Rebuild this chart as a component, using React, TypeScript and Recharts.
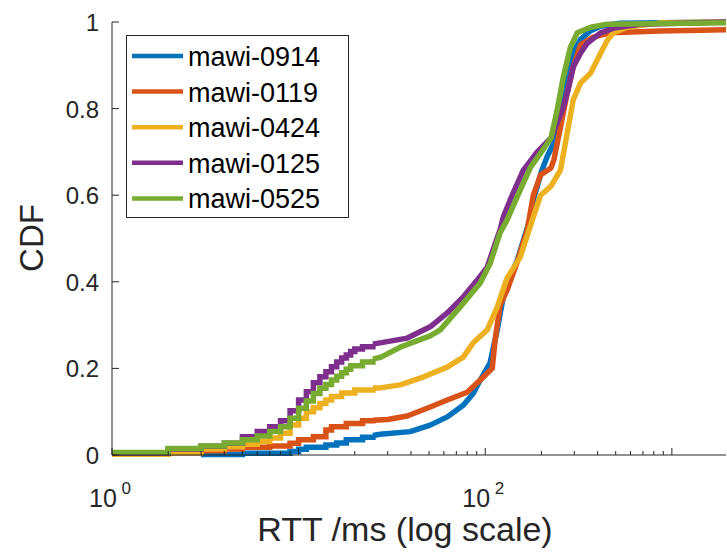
import { Line, LineChart, XAxis, YAxis } from "recharts";

type Pt = [number, number];

const AXIS = "#262626";
const FONT = "'Liberation Sans', Arial, Helvetica, sans-serif";

const SERIES_NAMES = ["mawi-0914", "mawi-0119", "mawi-0424", "mawi-0125", "mawi-0525"];
const SERIES_COLORS = ["#0072BD", "#D95319", "#EDB120", "#7E2F8E", "#77AC30"];

// RTTs are whole milliseconds at the low end, so the CDF is a staircase there.
// [rtt ms, cdf] at each jump, up to 25 ms
const steps0914: Pt[] = [[3, 0.001], [5, 0.004], [9, 0.008], [10, 0.013], [11, 0.018], [14, 0.023], [16, 0.028], [18, 0.035], [22, 0.041], [25, 0.045]];
const steps0119: Pt[] = [[2, 0.005], [3, 0.01], [4, 0.014], [5, 0.018], [7, 0.021], [9, 0.027], [10, 0.035], [12, 0.042], [14, 0.058], [15, 0.065], [18, 0.073], [22, 0.079], [25, 0.08]];
const steps0424: Pt[] = [[1, 0.002], [2, 0.006], [3, 0.014], [4, 0.019], [5, 0.025], [6, 0.031], [7, 0.039], [8, 0.05], [9, 0.069], [10, 0.085], [11, 0.1], [12, 0.109], [13, 0.119], [14, 0.127], [15, 0.135], [17, 0.143], [20, 0.15], [25, 0.155]];
const steps0125: Pt[] = [[1, 0.004], [2, 0.014], [3, 0.02], [4, 0.027], [5, 0.042], [6, 0.054], [7, 0.065], [8, 0.079], [9, 0.102], [10, 0.127], [11, 0.146], [12, 0.167], [13, 0.181], [14, 0.192], [15, 0.204], [16, 0.215], [17, 0.224], [18, 0.231], [19, 0.239], [20, 0.245], [22, 0.25], [25, 0.256]];
const steps0525: Pt[] = [[1, 0.006], [2, 0.015], [3, 0.021], [4, 0.028], [5, 0.035], [6, 0.044], [7, 0.054], [8, 0.065], [9, 0.085], [10, 0.108], [11, 0.125], [12, 0.142], [13, 0.154], [14, 0.163], [15, 0.173], [16, 0.182], [17, 0.19], [18, 0.198], [19, 0.206], [22, 0.215], [25, 0.222]];

// above 25 ms the steps are dense enough to read as a curve
const curve0914: Pt[] = [[25, 0.045], [27.3, 0.048], [39.6, 0.054], [50.7, 0.069], [62.6, 0.088], [76.2, 0.115], [86.2, 0.142], [94, 0.173], [106, 0.212], [116, 0.289], [125, 0.366], [136, 0.412], [148.5, 0.45], [164, 0.51], [175, 0.55], [181, 0.59], [190, 0.62], [200, 0.655], [215, 0.69], [233, 0.72], [253, 0.79], [275, 0.87], [296, 0.93], [324, 0.96], [367, 0.98], [415, 0.99], [530, 0.997], [1950, 1.0]];
const curve0119: Pt[] = [[25, 0.08], [30, 0.082], [38.2, 0.09], [50.7, 0.111], [62.6, 0.127], [80, 0.145], [94, 0.173], [109, 0.2], [113, 0.266], [120, 0.346], [131, 0.381], [148.5, 0.446], [168, 0.52], [181, 0.6], [198, 0.647], [225, 0.663], [233, 0.681], [253, 0.757], [275, 0.836], [296, 0.896], [324, 0.947], [379, 0.965], [468, 0.975], [867, 0.979], [1950, 0.982]];
const curve0424: Pt[] = [[25, 0.155], [27.3, 0.155], [35, 0.162], [46.5, 0.18], [62.6, 0.203], [76.2, 0.226], [86.2, 0.259], [102.5, 0.289], [116, 0.342], [131, 0.409], [154, 0.457], [175, 0.531], [198, 0.6], [225, 0.621], [253, 0.658], [275, 0.744], [296, 0.82], [324, 0.859], [367, 0.882], [415, 0.928], [451, 0.958], [486, 0.975], [577, 0.988], [867, 0.998], [1950, 1.0]];
const curve0125: Pt[] = [[25, 0.256], [27.3, 0.259], [38.2, 0.27], [50.7, 0.296], [62.6, 0.328], [76.2, 0.365], [90.6, 0.404], [102.5, 0.434], [110, 0.473], [120, 0.52], [125, 0.55], [141, 0.605], [160, 0.658], [190, 0.7], [225, 0.732], [259, 0.797], [275, 0.836], [296, 0.896], [324, 0.928], [352, 0.951], [415, 0.975], [486, 0.986], [678, 0.995], [1950, 1.0]];
const curve0525: Pt[] = [[25, 0.222], [27.3, 0.225], [35, 0.249], [50.7, 0.275], [57.4, 0.289], [73.5, 0.342], [94, 0.397], [106.4, 0.443], [120, 0.513], [131, 0.543], [154, 0.612], [175, 0.665], [198, 0.697], [225, 0.732], [243, 0.797], [262, 0.873], [286, 0.942], [311, 0.975], [367, 0.988], [451, 0.995], [1950, 0.998]];

const STEPS = [steps0914, steps0119, steps0424, steps0125, steps0525];
const CURVES = [curve0914, curve0119, curve0424, curve0125, curve0525];

const X_TICKS = [1, 2, 3, 4, 5, 6, 7, 8, 9, 10, 20, 30, 40, 50, 60, 70, 80, 90, 100, 200, 300, 400, 500, 600, 700, 800, 900, 1000];
const X_MAJOR = [1, 10, 100, 1000];
const X_LABEL_EXP: Record<number, string> = { 1: "0", 100: "2" };
const Y_TICKS = [0, 0.2, 0.4, 0.6, 0.8, 1];
const Y_LABELS = ["0", "0.2", "0.4", "0.6", "0.8", "1"];

const toRows = (pts: Pt[]) => pts.map(([x, y]) => ({ x, y }));

function BottomTick({ x, y, payload }: any) {
  const v = payload.value;
  const exp = X_LABEL_EXP[v];
  return (
    <g>
      <line x1={x} x2={x} y1={y} y2={y - (X_MAJOR.includes(v) ? 7 : 4)} stroke={AXIS} />
      {exp !== undefined ? (
        <text x={x - 2} y={y + 52} textAnchor="middle" fontSize={25} fill={AXIS} fontFamily={FONT}>
          10
          <tspan dy={-13} fontSize={17}>
            {" " + exp}
          </tspan>
        </text>
      ) : null}
    </g>
  );
}

function TopTick({ x, y, payload }: any) {
  const v = payload.value;
  return <line x1={x} x2={x} y1={y} y2={y + (X_MAJOR.includes(v) ? 7 : 4)} stroke={AXIS} />;
}

function LeftTick({ x, y, payload, index }: any) {
  return (
    <g>
      <line x1={x} x2={x + 7} y1={y} y2={y} stroke={AXIS} />
      <text x={x - 13} y={y + 9} textAnchor="end" fontSize={24} fill={AXIS} fontFamily={FONT}>
        {Y_LABELS[index] ?? String(payload.value)}
      </text>
    </g>
  );
}

function RightTick({ x, y }: any) {
  return <line x1={x} x2={x - 7} y1={y} y2={y} stroke={AXIS} />;
}

function Legend() {
  return (
    <svg width={225} height={185} style={{ position: "absolute", left: 125, top: 34 }}>
      <rect x={1.5} y={1.5} width={222} height={182} fill="#fff" stroke={AXIS} strokeWidth={1} />
      {SERIES_NAMES.map((name, i) => {
        const cy = 22 + i * 35.6;
        return (
          <g key={name}>
            <line x1={7} x2={58} y1={cy} y2={cy} stroke={SERIES_COLORS[i]} strokeWidth={4.5} />
            <text x={63} y={cy + 10} fontSize={27} fill="#000" fontFamily={FONT}>
              {name}
            </text>
          </g>
        );
      })}
    </svg>
  );
}

export default function App() {
  return (
    <div style={{ position: "absolute", left: 0, top: 0, width: 727, height: 552, background: "#fff" }}>
      <LineChart width={727} height={552} margin={{ top: 22, right: 1, bottom: 0, left: 0 }}>
        <XAxis
          dataKey="x"
          type="number"
          scale="log"
          domain={[1, 1950]}
          allowDataOverflow
          ticks={X_TICKS}
          interval={0}
          tick={<BottomTick />}
          tickSize={0}
          tickMargin={0}
          tickLine={false}
          height={97}
          stroke={AXIS}
          label={() => (
            <text x={405} y={541} textAnchor="middle" fontSize={34} fill={AXIS} fontFamily={FONT}>
              RTT /ms (log scale)
            </text>
          )}
        />
        <XAxis
          xAxisId="top"
          orientation="top"
          dataKey="x"
          type="number"
          scale="log"
          domain={[1, 1950]}
          allowDataOverflow
          ticks={X_TICKS}
          interval={0}
          tick={<TopTick />}
          tickSize={0}
          tickMargin={0}
          tickLine={false}
          height={0}
          stroke={AXIS}
        />
        <YAxis
          type="number"
          domain={[0, 1]}
          ticks={Y_TICKS}
          interval={0}
          tick={<LeftTick />}
          tickSize={0}
          tickMargin={0}
          tickLine={false}
          width={112}
          stroke={AXIS}
          label={() => (
            <text x={43} y={238} transform="rotate(-90 43 238)" textAnchor="middle" fontSize={33} fill={AXIS} fontFamily={FONT}>
              CDF
            </text>
          )}
        />
        <YAxis
          yAxisId="right"
          orientation="right"
          type="number"
          domain={[0, 1]}
          ticks={Y_TICKS}
          interval={0}
          tick={<RightTick />}
          tickSize={0}
          tickMargin={0}
          tickLine={false}
          width={0}
          stroke={AXIS}
        />
        {SERIES_NAMES.flatMap((name, i) => [
          <Line
            key={name + "-steps"}
            data={toRows(STEPS[i])}
            dataKey="y"
            type="stepAfter"
            stroke={SERIES_COLORS[i]}
            strokeWidth={5.5}
            dot={false}
            activeDot={false}
            isAnimationActive={false}
          />,
          <Line
            key={name + "-curve"}
            data={toRows(CURVES[i])}
            dataKey="y"
            type="linear"
            stroke={SERIES_COLORS[i]}
            strokeWidth={5.5}
            strokeLinejoin="round"
            dot={false}
            activeDot={false}
            isAnimationActive={false}
          />,
        ])}
      </LineChart>
      <Legend />
    </div>
  );
}
